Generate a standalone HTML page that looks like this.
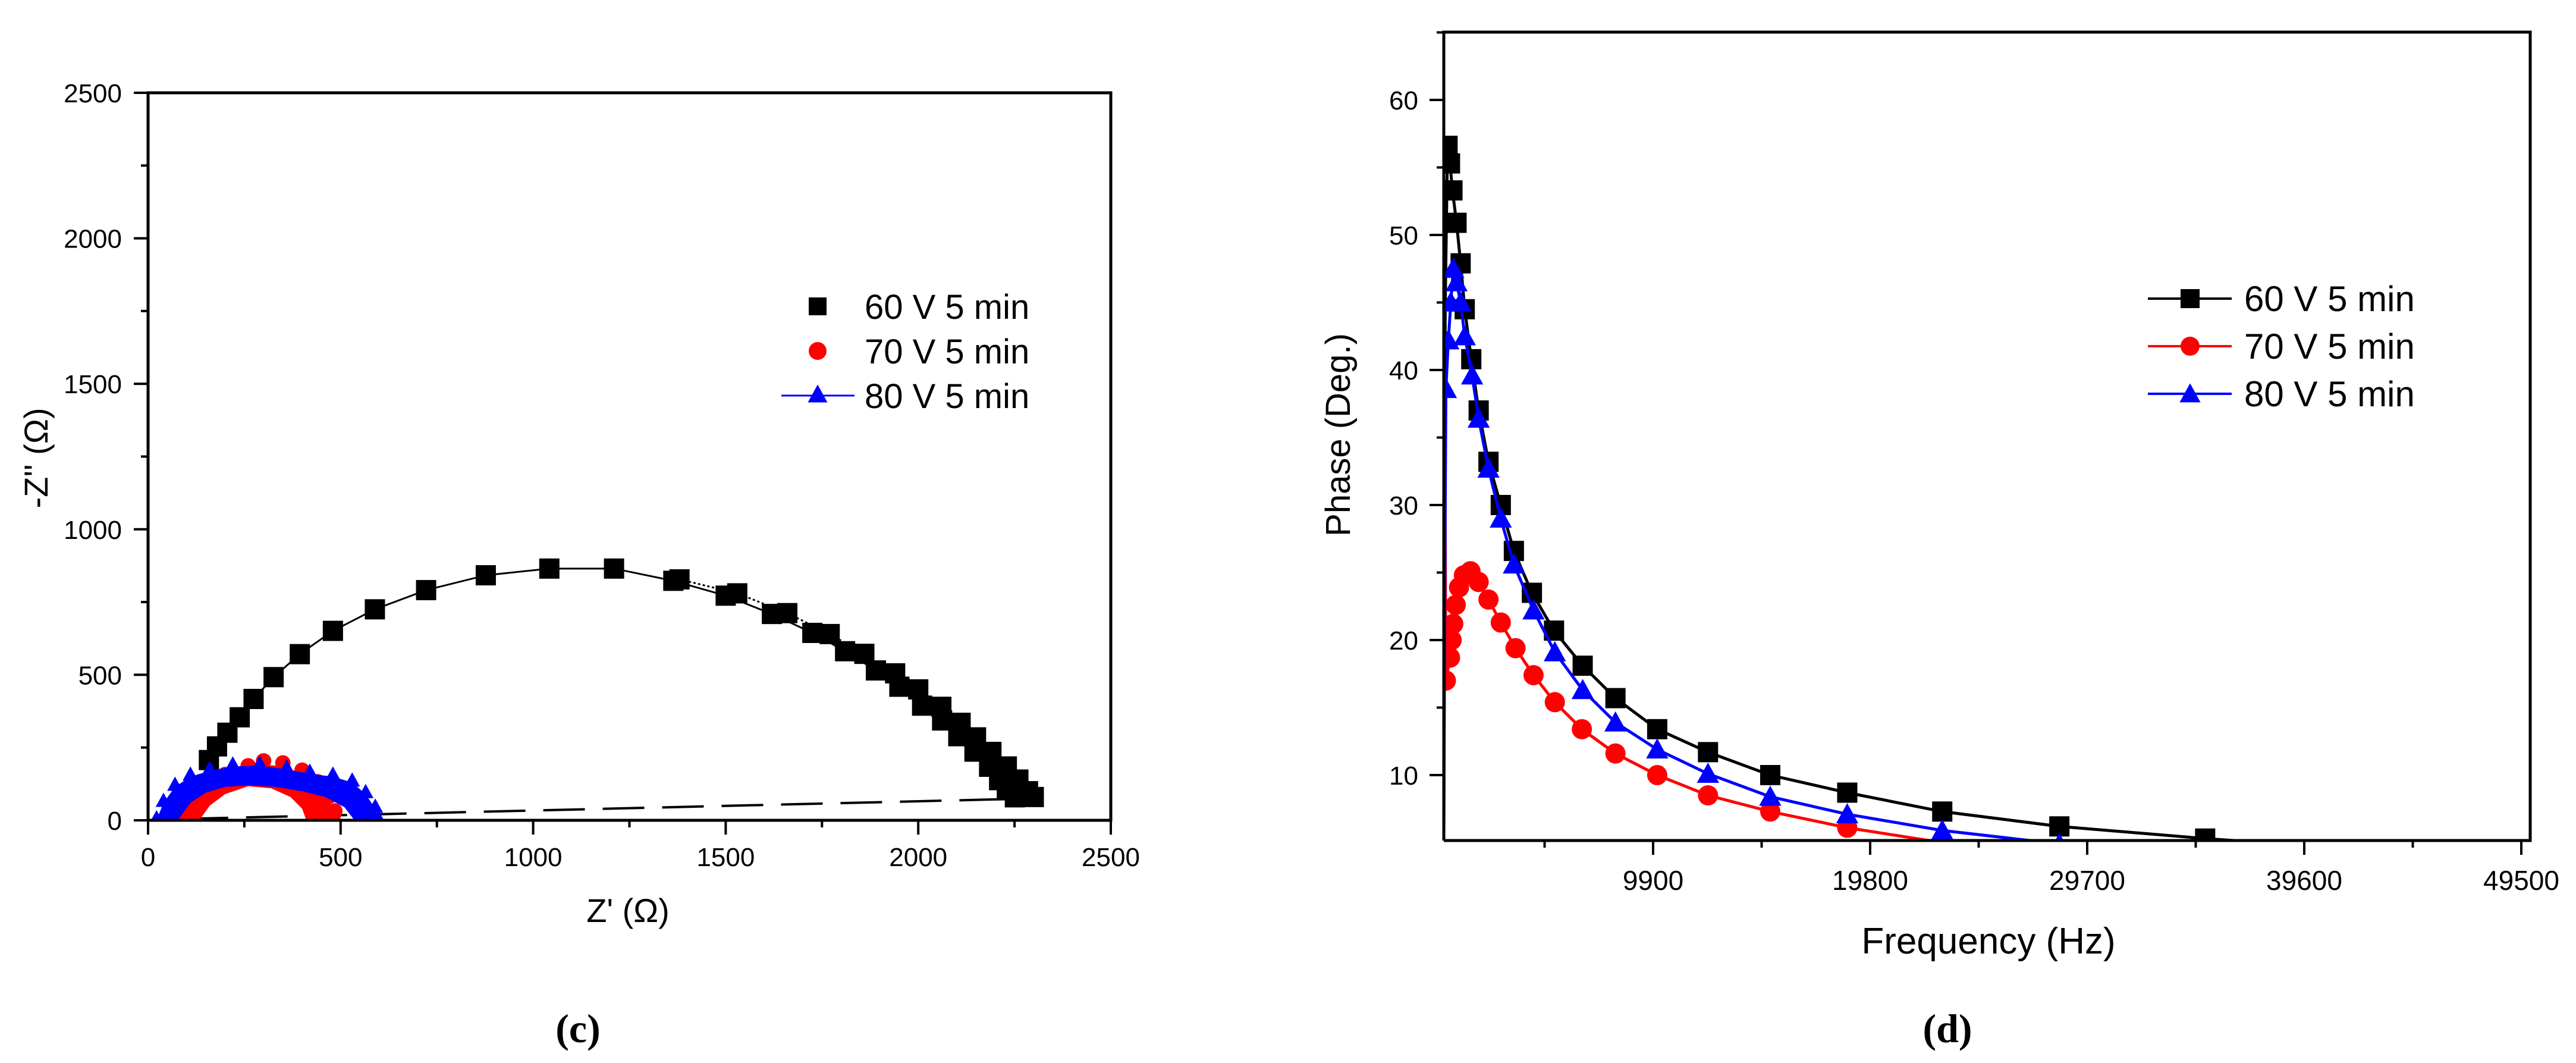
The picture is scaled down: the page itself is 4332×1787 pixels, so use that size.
<!DOCTYPE html>
<html><head><meta charset="utf-8"><style>
html,body{margin:0;padding:0;background:#fff;}
svg{display:block;font-family:"Liberation Sans",Arial,sans-serif;}
</style></head><body>
<svg id="fig" width="4332" height="1787" viewBox="0 0 4332 1787" xmlns="http://www.w3.org/2000/svg">
<rect width="4332" height="1787" fill="#fff"/>
<g id="chartC"></g>
<g id="chartD"></g>
</svg>
<script>
// ---------- Chart (c) data ----------
const cXTicks = [0, 500, 1000, 1500, 2000, 2500];
const cYTicks = [0, 500, 1000, 1500, 2000, 2500];
const c60x = [158,179,206,238,274,326,394,480,589,722,877,1042,1210,1364,1500,1620,1725,1810,1890,1951,2010,2062,2104,2146,2184,2210,2230,2251];
const c60y = [207,254,301,354,417,492,571,651,725,791,842,865,865,823,772,709,644,581,515,459,394,343,289,236,184,138,103,79];
const c60bx = [1380,1530,1660,1770,1860,1940,2000,2060,2110,2150,2190,2230,2260,2285,2300];
const c60by = [828,780,712,640,572,505,450,390,335,285,235,185,140,100,80];
const cDashX = [100, 2300];
const cDashY = [5, 75];
const c70ox = [77,100,140,200,260,300,350,400,440,470,485,480];
const c70oy = [0,60,110,145,175,192,185,160,120,70,20,0];
const c70ix = [133,160,200,260,320,370,400,411];
const c70iy = [0,50,90,117,110,80,40,0];
const c80ox = [22,40,70,110,160,220,290,360,420,480,530,565,590,598];
const c80oy = [0,60,115,150,170,185,188,175,160,150,130,90,40,0];
const c80ix = [77,110,150,200,260,330,400,460,510,536];
const c80iy = [0,60,95,115,120,115,100,80,45,0];
const cLegend = ["60 V 5 min","70 V 5 min","80 V 5 min"];

// ---------- Chart (d) data ----------
const dXTicks = [9900, 19800, 29700, 39600, 49500];
const dYTicks = [10, 20, 30, 40, 50, 60];
const d60x = [352,420,523,635,747,934,1121,1308,1606,1943,2391,2951,3549,4371,5380,6687,8182,10087,12404,15243,18755,23088,28430,35080,43225];
const d60y = [20,45,56.6,55.3,53.3,50.9,47.9,44.5,40.8,37.0,33.2,30.0,26.6,23.5,20.7,18.1,15.7,13.4,11.7,10.0,8.7,7.3,6.2,5.3,4.4];
const d70x = [352,400,448,635,710,785,897,1046,1270,1569,1943,2391,2951,3624,4446,5417,6650,8182,10087,12404,15243,18755,23088];
const d70y = [5,34,17,18.7,20.0,21.2,22.6,23.9,24.8,25.1,24.3,23.0,21.3,19.4,17.4,15.4,13.4,11.6,10.0,8.5,7.3,6.1,5.0];
const d80x = [352,400,448,560,672,785,934,1121,1308,1644,1943,2391,2951,3549,4446,5417,6687,8182,10087,12404,15243,18755,23088,28430];
const d80y = [5,25,38.6,42.2,45.0,47.5,46.5,45.0,42.5,39.6,36.4,32.7,29.0,25.6,22.2,19.1,16.3,13.9,11.9,10.1,8.4,7.1,5.9,4.9];
const dLegend = ["60 V 5 min","70 V 5 min","80 V 5 min"];

const NS = "http://www.w3.org/2000/svg";
function mk(parent, tag, attrs){const e=document.createElementNS(NS,tag);for(const k in attrs)e.setAttribute(k,attrs[k]);parent.appendChild(e);return e;}
function txt(parent, s, x, y, size, anchor, extra){const t=mk(parent,'text',{x:x,y:y,'font-size':size,'text-anchor':anchor||'middle',fill:'#000'});if(extra)for(const k in extra)t.setAttribute(k,extra[k]);t.textContent=s;return t;}
function square(g,x,y,s,c){return mk(g,'rect',{x:x-s/2,y:y-s/2,width:s,height:s,fill:c});}
function circle(g,x,y,s,c){return mk(g,'circle',{cx:x,cy:y,r:s/2,fill:c});}
function tri(g,x,y,s,c){return mk(g,'polygon',{points:`${x},${y-s*0.55} ${x-s*0.55},${y+s*0.45} ${x+s*0.55},${y+s*0.45}`,fill:c});}

// ================= Chart C =================
(function(){
  const g=document.getElementById('chartC');
  const L=249,R=1868,T=156,B=1379;
  const X=v=>L+(v-0)*(R-L)/2500;
  const Y=v=>B-(v-0)*(B-T)/2500;
  const clip=mk(g,'clipPath',{id:'clipC'});mk(clip,'rect',{x:L,y:T,width:R-L,height:B-T});
  const data=mk(g,'g',{'clip-path':'url(#clipC)'});
  
  
  const dl=mk(data,'line',{x1:X(cDashX[0]),y1:Y(cDashY[0]),x2:X(cDashX[1]),y2:Y(cDashY[1]),stroke:'#000','stroke-width':4,'stroke-dasharray':'70,30'});
  
  
  const s60=mk(data,'g',{});
  
  
  mk(s60,'polyline',{points:c60x.map((v,i)=>X(v)+','+Y(c60y[i])).join(' '),fill:'none',stroke:'#000','stroke-width':3});
  mk(s60,'polyline',{points:c60bx.map((v,i)=>X(v)+','+Y(c60by[i])).join(' '),fill:'none',stroke:'#000','stroke-width':3,'stroke-dasharray':'4,4'});
  c60x.forEach((v,i)=>square(s60,X(v),Y(c60y[i]),34,'#000'));
  c60bx.forEach((v,i)=>square(s60,X(v),Y(c60by[i]),34,'#000'));
  const s70=mk(data,'g',{});
  
  
  const redPts=c70ox.map((v,i)=>X(v)+','+Y(c70oy[i])).concat(c70ix.slice().reverse().map((v,i)=>X(v)+','+Y(c70iy[c70iy.length-1-i])));
  mk(s70,'polygon',{points:redPts.join(' '),fill:'#f00'});
  c70ox.forEach((v,i)=>circle(s70,X(v),Y(c70oy[i])-6,26,'#f00'));
  const s80=mk(data,'g',{});
  
  
  const bluePts=c80ox.map((v,i)=>X(v)+','+Y(c80oy[i])).concat(c80ix.slice().reverse().map((v,i)=>X(v)+','+Y(c80iy[c80iy.length-1-i])));
  mk(s80,'polygon',{points:bluePts.join(' '),fill:'#00f'});
  c80ox.forEach((v,i)=>tri(s80,X(v),Y(c80oy[i])-4,24,'#00f'));
  const ax=mk(g,'g',{});
  
  
  mk(ax,'polyline',{points:`${L},${B} ${L},${T} ${R},${T} ${R},${B} ${L},${B}`,fill:'none',stroke:'#000','stroke-width':5});
  cXTicks.forEach((v,i)=>{
    mk(ax,'line',{x1:X(v),y1:B,x2:X(v),y2:B+24,stroke:'#000','stroke-width':4});
    if(i<cXTicks.length-1)mk(ax,'line',{x1:X(v+250),y1:B,x2:X(v+250),y2:B+12,stroke:'#000','stroke-width':4});
    const t=txt(ax,String(v),X(v),1456,44);
    
    
  });
  cYTicks.forEach((v,i)=>{
    mk(ax,'line',{x1:L,y1:Y(v),x2:L-24,y2:Y(v),stroke:'#000','stroke-width':4});
    if(i<cYTicks.length-1)mk(ax,'line',{x1:L,y1:Y(v+250),x2:L-12,y2:Y(v+250),stroke:'#000','stroke-width':4});
    const t=txt(ax,String(v),205,Y(v)+16,44,'end');
    
    
  });
  const xt=txt(g,"Z' (\u03A9)",1056,1550,56);
  
  
  const yt=txt(g,"-Z'' (\u03A9)",0,0,56,'middle',{transform:'translate(80,770) rotate(-90)'});
  
  
  const cap=txt(g,"(c)",972,1752,68,'middle',{'font-family':'"Liberation Serif",serif','font-weight':'bold'});
  
  
  const lg=mk(g,'g',{});
  
  
  const rows=[515,590,665];
  square(lg,1375,rows[0],30,'#000');
  circle(lg,1375,rows[1],30,'#f00');
  mk(lg,'line',{x1:1314,y1:rows[2],x2:1437,y2:rows[2],stroke:'#00f','stroke-width':3});
  tri(lg,1375,rows[2]-2,30,'#00f');
  cLegend.forEach((s,i)=>{const t=txt(lg,s,1454,rows[i]+21,58,'start');
    
    });
})();

// ================= Chart D =================
(function(){
  const g=document.getElementById('chartD');
  const L=2428,R=4255,T=54,B=1413;
  const x0=2415, pxPer=365/9900;
  const X=v=>x0+v*pxPer;
  const Y=v=>168+(60-v)*22.7;
  const clip=mk(g,'clipPath',{id:'clipD'});mk(clip,'rect',{x:L,y:T,width:R-L,height:B-T});
  const data=mk(g,'g',{'clip-path':'url(#clipD)'});
  
  
  function series(xs,ys,col,shape,name){
    const s=mk(data,'g',{});
    
    
    mk(s,'polyline',{points:xs.map((v,i)=>X(v)+','+Y(ys[i])).join(' '),fill:'none',stroke:col,'stroke-width':5});
    xs.forEach((v,i)=>{ if(i<2) return; shape(s,X(v),Y(ys[i]),34,col);});
  }
  series(d60x,d60y,'#000',square,'series-60v');
  series(d70x,d70y,'#f00',circle,'series-70v');
  series(d80x,d80y,'#00f',tri,'series-80v');
  const ax=mk(g,'g',{});
  
  
  mk(ax,'polyline',{points:`${L},${B} ${L},${T} ${R},${T} ${R},${B} ${L},${B}`,fill:'none',stroke:'#000','stroke-width':5});
  dXTicks.forEach(v=>{
    mk(ax,'line',{x1:X(v),y1:B,x2:X(v),y2:B+24,stroke:'#000','stroke-width':4});
    mk(ax,'line',{x1:X(v-4950),y1:B,x2:X(v-4950),y2:B+12,stroke:'#000','stroke-width':4});
    const t=txt(ax,String(v),X(v),1496,46);
    
    
  });
  dYTicks.forEach(v=>{
    mk(ax,'line',{x1:L,y1:Y(v),x2:L-24,y2:Y(v),stroke:'#000','stroke-width':4});
    mk(ax,'line',{x1:L,y1:Y(v+5),x2:L-12,y2:Y(v+5),stroke:'#000','stroke-width':4});
    const t=txt(ax,String(v),2385,Y(v)+16,44,'end');
    
    
  });
  const xt=txt(g,"Frequency (Hz)",3344,1603,62);
  
  
  const yt=txt(g,"Phase (Deg.)",0,0,58,'middle',{transform:'translate(2270,731) rotate(-90)'});
  
  
  const cap=txt(g,"(d)",3275,1752,68,'middle',{'font-family':'"Liberation Serif",serif','font-weight':'bold'});
  
  
  const lg=mk(g,'g',{});
  
  
  const rows=[502,582,662], cols=['#000','#f00','#00f'], shapes=[square,circle,tri];
  rows.forEach((y,i)=>{
    mk(lg,'line',{x1:3612,y1:y,x2:3753,y2:y,stroke:cols[i],'stroke-width':4});
    shapes[i](lg,3683,y,32,cols[i]);
    const t=txt(lg,dLegend[i],3774,y+21,60,'start');
    
    
  });
})();
</script>
</body></html>
